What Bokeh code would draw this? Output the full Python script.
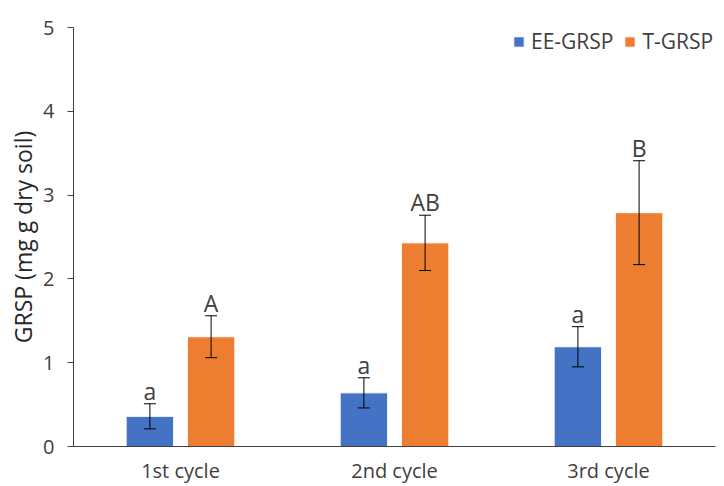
from bokeh.plotting import figure
from bokeh.models import ColumnDataSource, Range1d, Whisker, TeeHead, Legend, LegendItem, FactorRange
from bokeh.transform import dodge
from bokeh.core.properties import value
from bokeh.embed import file_html
from bokeh.resources import INLINE

cycles = ["1st cycle", "2nd cycle", "3rd cycle"]
ee_mean = [0.36, 0.64, 1.19]
ee_err = [0.15, 0.18, 0.24]
t_mean = [1.31, 2.43, 2.79]
t_err = [0.25, 0.33, 0.62]
ee_letters = ["a", "a", "a"]
t_letters = ["A", "AB", "B"]
y_ticks = [0, 1, 2, 3, 4, 5]

FONT = "Open Sans"
BLUE = "#4472C4"
ORANGE = "#ED7D31"
DARK = "#404040"

src = ColumnDataSource(dict(
    cycle=cycles,
    ee=ee_mean,
    ee_lo=[m - e for m, e in zip(ee_mean, ee_err)],
    ee_hi=[m + e for m, e in zip(ee_mean, ee_err)],
    t=t_mean,
    t_lo=[m - e for m, e in zip(t_mean, t_err)],
    t_hi=[m + e for m, e in zip(t_mean, t_err)],
    ee_lab=ee_letters,
    t_lab=t_letters,
))

p = figure(x_range=FactorRange(*cycles, range_padding=0), y_range=Range1d(0, 5),
           width=724, height=486, output_backend="svg", toolbar_location=None,
           min_border_left=73, min_border_right=9, min_border_top=27, min_border_bottom=39)
p.outline_line_color = None
p.xgrid.grid_line_color = None
p.ygrid.grid_line_color = None

OFF = 0.143
W = 0.222
r1 = p.vbar(x=dodge("cycle", -OFF, range=p.x_range), top="ee", width=W, source=src,
            fill_color=BLUE, line_color="white", line_width=1)
r2 = p.vbar(x=dodge("cycle", OFF, range=p.x_range), top="t", width=W, source=src,
            fill_color=ORANGE, line_color="white", line_width=1)

for off, lo, hi in [(-OFF, "ee_lo", "ee_hi"), (OFF, "t_lo", "t_hi")]:
    w = Whisker(base=dodge("cycle", off, range=p.x_range), lower=lo, upper=hi, source=src,
                line_color="black", line_width=1, level="overlay",
                upper_head=TeeHead(size=12, line_color="black", line_width=1),
                lower_head=TeeHead(size=12, line_color="black", line_width=1))
    p.add_layout(w)

for off, hi, lab in [(-OFF, "ee_hi", "ee_lab"), (OFF, "t_hi", "t_lab")]:
    p.text(x=dodge("cycle", off, range=p.x_range), y=hi, text=lab, source=src,
           y_offset=-13, text_align="center", text_baseline="alphabetic",
           text_font=value(FONT), text_font_size="23px", text_color=DARK)

p.yaxis.ticker = y_ticks
p.yaxis.axis_label = "GRSP (mg g dry soil)"
p.yaxis.axis_label_text_font = FONT
p.yaxis.axis_label_text_font_style = "normal"
p.yaxis.axis_label_text_font_size = "23px"
p.yaxis.axis_label_text_color = "#262626"
p.yaxis.axis_label_standoff = 1
p.yaxis.major_label_text_font = FONT
p.yaxis.major_label_text_font_size = "20px"
p.yaxis.major_label_text_color = DARK
p.yaxis.major_label_standoff = 13
p.yaxis.axis_line_color = DARK
p.yaxis.major_tick_line_color = DARK
p.yaxis.major_tick_out = 6
p.yaxis.major_tick_in = 0
p.yaxis.minor_tick_line_color = None

p.xaxis.axis_line_color = DARK
p.xaxis.major_tick_line_color = None
p.xaxis.minor_tick_line_color = None
p.xaxis.major_label_text_font = FONT
p.xaxis.major_label_text_font_size = "20px"
p.xaxis.major_label_text_color = DARK
p.xaxis.major_label_standoff = 4

legend = Legend(items=[LegendItem(label="EE-GRSP", renderers=[r1]),
                       LegendItem(label="T-GRSP", renderers=[r2])],
                orientation="horizontal", location=(439, 391),
                glyph_width=13, glyph_height=13, label_text_font=FONT,
                label_text_font_size="21px", label_text_color=DARK,
                border_line_color=None, background_fill_alpha=0,
                spacing=10, label_standoff=6, padding=0, margin=0)
p.add_layout(legend, "center")

open("out.html", "w").write(file_html(p, INLINE))
